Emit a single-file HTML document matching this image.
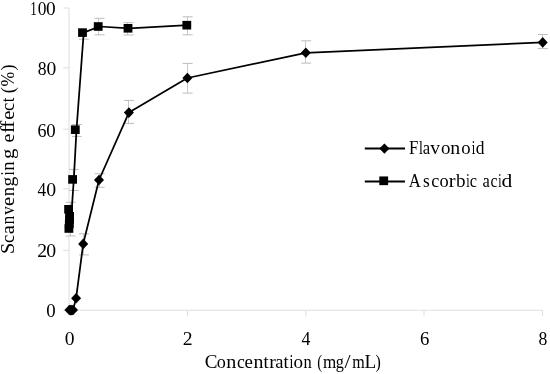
<!DOCTYPE html>
<html><head><meta charset="utf-8"><style>
html,body{margin:0;padding:0;background:#fff;}
body{width:550px;height:374px;overflow:hidden;}
svg{display:block;filter:grayscale(1);}
</style></head><body>
<svg width="550" height="374" viewBox="0 0 550 374">
<g stroke="#e0e0e0" stroke-width="1.1" fill="none">
<path d="M69.0 8.0V310.2H542.5"/>
<path d="M63.2 310.20H69.0"/>
<path d="M63.2 250.30H69.0"/>
<path d="M63.2 188.90H69.0"/>
<path d="M63.2 129.20H69.0"/>
<path d="M63.2 67.80H69.0"/>
<path d="M63.2 8.00H69.0"/>
<path d="M187.40 310.2V316.4"/>
<path d="M305.80 310.2V316.4"/>
<path d="M424.00 310.2V316.4"/>
<path d="M542.50 310.2V316.4"/>
</g>
<g stroke="#bdbdbd" stroke-width="1" fill="none">
<path stroke="#c8c8c8" d="M83.50 233.80V254.90"/><path d="M79.00 233.80H89.00M79.00 254.90H89.00"/>
<path stroke="#c8c8c8" d="M99.50 173.70V187.30"/><path d="M94.70 173.70H104.70M94.70 187.30H104.70"/>
<path stroke="#c8c8c8" d="M128.50 100.40V123.40"/><path d="M124.10 100.40H134.10M124.10 123.40H134.10"/>
<path stroke="#c8c8c8" d="M187.50 63.40V93.10"/><path d="M182.60 63.40H192.60M182.60 93.10H192.60"/>
<path stroke="#c8c8c8" d="M305.50 40.80V63.10"/><path d="M301.20 40.80H311.20M301.20 63.10H311.20"/>
<path stroke="#c8c8c8" d="M542.50 34.50V48.60"/><path d="M537.80 34.50H547.80M537.80 48.60H547.80"/>
<path stroke="#c8c8c8" d="M70.50 202.30V236.00"/><path d="M65.60 202.30H75.60M65.60 236.00H75.60"/>
<path stroke="#c8c8c8" d="M73.50 169.40V190.50"/><path d="M68.80 169.40H78.80M68.80 190.50H78.80"/>
<path stroke="#c8c8c8" d="M76.50 124.50V136.40"/><path d="M71.80 124.50H81.80M71.80 136.40H81.80"/>
<path stroke="#c8c8c8" d="M83.50 31.00V39.20"/><path d="M78.80 31.00H88.80M78.80 39.20H88.80"/>
<path stroke="#c8c8c8" d="M98.50 18.30V34.80"/><path d="M94.50 18.30H104.50M94.50 34.80H104.50"/>
<path stroke="#c8c8c8" d="M127.50 22.70V35.00"/><path d="M123.50 22.70H133.50M123.50 35.00H133.50"/>
<path stroke="#c8c8c8" d="M187.50 16.80V34.80"/><path d="M182.60 16.80H192.60M182.60 34.80H192.60"/>
</g>
<polyline points="69.40,310.00 70.60,310.10 71.80,310.10 73.00,310.00 76.10,298.20 83.20,243.90 99.00,180.00 128.90,112.60 187.40,78.00 305.80,52.80 542.70,42.40" fill="none" stroke="#000" stroke-width="1.75" stroke-linejoin="round"/>
<polyline points="68.90,228.50 71.30,216.00 73.80,179.40 76.50,129.70 83.70,32.60 99.40,26.50 129.20,28.30 188.00,25.20" fill="none" stroke="#000" stroke-width="1.75" stroke-linejoin="round"/>
<g fill="#000">
<path d="M64.40 310.00L69.40 304.70L74.40 310.00L69.40 315.30Z"/>
<path d="M65.60 310.10L70.60 304.80L75.60 310.10L70.60 315.40Z"/>
<path d="M66.80 310.10L71.80 304.80L76.80 310.10L71.80 315.40Z"/>
<path d="M68.00 310.00L73.00 304.70L78.00 310.00L73.00 315.30Z"/>
<path d="M71.10 298.20L76.10 292.90L81.10 298.20L76.10 303.50Z"/>
<path d="M78.20 243.90L83.20 238.60L88.20 243.90L83.20 249.20Z"/>
<path d="M94.00 180.00L99.00 174.70L104.00 180.00L99.00 185.30Z"/>
<path d="M123.90 112.60L128.90 107.30L133.90 112.60L128.90 117.90Z"/>
<path d="M182.40 78.00L187.40 72.70L192.40 78.00L187.40 83.30Z"/>
<path d="M300.80 52.80L305.80 47.50L310.80 52.80L305.80 58.10Z"/>
<path d="M537.70 42.40L542.70 37.10L547.70 42.40L542.70 47.70Z"/>
<rect x="64.50" y="224.20" width="8.8" height="8.6"/>
<rect x="64.90" y="219.70" width="8.8" height="8.6"/>
<rect x="65.20" y="215.10" width="8.8" height="8.6"/>
<rect x="64.20" y="205.00" width="8.8" height="8.6"/>
<rect x="65.20" y="212.00" width="8.8" height="8.6"/>
<rect x="68.20" y="175.10" width="8.8" height="8.6"/>
<rect x="70.90" y="125.40" width="8.8" height="8.6"/>
<rect x="78.10" y="28.30" width="8.8" height="8.6"/>
<rect x="93.80" y="22.20" width="8.8" height="8.6"/>
<rect x="123.60" y="24.00" width="8.8" height="8.6"/>
<rect x="182.40" y="20.90" width="8.8" height="8.6"/>
</g>
<g stroke="#000" stroke-width="2"><path d="M364.8 148.6H405M364.8 181.5H405"/></g>
<g fill="#000"><path d="M379.30 148.60L384.40 143.50L389.50 148.60L384.40 153.70Z"/><rect x="379.30" y="176.45" width="8.8" height="8.7"/></g>
<g font-family="Liberation Serif" fill="#000">
<text transform="translate(409.12,153.80) scale(0.852,1)" font-size="19.6">F</text>
<text transform="translate(419.12,153.80) scale(0.708,1)" font-size="19.6">l</text>
<text transform="translate(422.71,153.80) scale(0.852,1)" font-size="19.6">a</text>
<text transform="translate(430.20,153.80) scale(1.000,1)" font-size="19.6">v</text>
<text transform="translate(441.08,153.80) scale(0.963,1)" font-size="19.6">o</text>
<text transform="translate(450.14,153.80) scale(1.016,1)" font-size="19.6">n</text>
<text transform="translate(461.29,153.80) scale(0.951,1)" font-size="19.6">o</text>
<text transform="translate(471.84,153.80) scale(0.644,1)" font-size="19.6">i</text>
<text transform="translate(475.77,153.80) scale(0.892,1)" font-size="19.6">d</text>
<text transform="translate(408.74,186.90) scale(0.854,1)" font-size="19.6">A</text>
<text transform="translate(422.99,186.90) scale(0.883,1)" font-size="19.6">s</text>
<text transform="translate(431.31,186.90) scale(0.925,1)" font-size="19.6">c</text>
<text transform="translate(439.60,186.90) scale(0.939,1)" font-size="19.6">o</text>
<text transform="translate(448.69,186.90) scale(1.040,1)" font-size="19.6">r</text>
<text transform="translate(456.00,186.90) scale(0.972,1)" font-size="19.6">b</text>
<text transform="translate(466.34,186.90) scale(0.622,1)" font-size="19.6">i</text>
<text transform="translate(469.78,186.90) scale(0.830,1)" font-size="19.6">c</text>
<text transform="translate(482.52,186.90) scale(0.840,1)" font-size="19.6">a</text>
<text transform="translate(490.40,186.90) scale(0.803,1)" font-size="19.6">c</text>
<text transform="translate(498.25,186.90) scale(0.600,1)" font-size="19.6">i</text>
<text transform="translate(501.62,186.90) scale(1.100,1)" font-size="19.6">d</text>
<text transform="translate(46.28,317.40) scale(0.993,1)" font-size="19">0</text>
<text transform="translate(37.13,257.10) scale(1.037,1)" font-size="19">2</text>
<text transform="translate(46.25,257.10) scale(1.043,1)" font-size="19">0</text>
<text transform="translate(37.56,196.00) scale(0.906,1)" font-size="19">4</text>
<text transform="translate(46.25,196.00) scale(1.043,1)" font-size="19">0</text>
<text transform="translate(37.43,136.50) scale(0.949,1)" font-size="19">6</text>
<text transform="translate(46.28,136.50) scale(0.993,1)" font-size="19">0</text>
<text transform="translate(37.83,74.80) scale(0.931,1)" font-size="19">8</text>
<text transform="translate(46.55,74.80) scale(1.031,1)" font-size="19">0</text>
<text transform="translate(30.15,14.80) scale(0.688,1)" font-size="19">1</text>
<text transform="translate(37.84,14.80) scale(0.919,1)" font-size="19">0</text>
<text transform="translate(46.06,14.80) scale(1.018,1)" font-size="19">0</text>
<text transform="translate(64.65,345.20) scale(1.031,1)" font-size="19">0</text>
<text transform="translate(182.83,345.20) scale(1.037,1)" font-size="19">2</text>
<text transform="translate(301.55,345.20) scale(0.940,1)" font-size="19">4</text>
<text transform="translate(419.90,345.20) scale(0.986,1)" font-size="19">6</text>
<text transform="translate(538.53,345.20) scale(0.931,1)" font-size="19">8</text>
<text transform="translate(204.72,368.00) scale(0.964,1)" font-size="19.8">C</text>
<text transform="translate(216.71,368.00) scale(0.918,1)" font-size="19.8">o</text>
<text transform="translate(226.24,368.00) scale(1.017,1)" font-size="19.8">n</text>
<text transform="translate(236.93,368.00) scale(0.889,1)" font-size="19.8">c</text>
<text transform="translate(244.56,368.00) scale(0.955,1)" font-size="19.8">e</text>
<text transform="translate(253.44,368.00) scale(1.006,1)" font-size="19.8">n</text>
<text transform="translate(263.42,368.00) scale(0.944,1)" font-size="19.8">t</text>
<text transform="translate(269.21,368.00) scale(0.996,1)" font-size="19.8">r</text>
<text transform="translate(275.35,368.00) scale(0.933,1)" font-size="19.8">a</text>
<text transform="translate(283.62,368.00) scale(0.944,1)" font-size="19.8">t</text>
<text transform="translate(289.51,368.00) scale(0.701,1)" font-size="19.8">i</text>
<text transform="translate(293.47,368.00) scale(0.965,1)" font-size="19.8">o</text>
<text transform="translate(303.52,368.00) scale(0.831,1)" font-size="19.8">n</text>
<text transform="translate(317.35,368.00) scale(0.747,1)" font-size="19.8">(</text>
<text transform="translate(323.04,368.00) scale(0.859,1)" font-size="19.8">m</text>
<text transform="translate(335.80,368.00) scale(0.819,1)" font-size="19.8">g</text>
<text transform="translate(344.50,368.00) scale(1.100,1)" font-size="19.8">/</text>
<text transform="translate(352.26,368.00) scale(0.811,1)" font-size="19.8">m</text>
<text transform="translate(364.45,368.00) scale(0.968,1)" font-size="19.8">L</text>
<text transform="translate(375.39,368.00) scale(0.806,1)" font-size="19.8">)</text>
<text transform="translate(14.20,254.05) rotate(-90) scale(1.006,0.93)" font-size="20">S</text>
<text transform="translate(14.20,243.10) rotate(-90) scale(0.920,0.93)" font-size="20">c</text>
<text transform="translate(14.20,234.22) rotate(-90) scale(1.025,0.93)" font-size="20">a</text>
<text transform="translate(14.20,224.41) rotate(-90) scale(0.888,0.93)" font-size="20">n</text>
<text transform="translate(14.20,214.70) rotate(-90) scale(0.850,0.93)" font-size="20">v</text>
<text transform="translate(14.20,205.90) rotate(-90) scale(1.027,0.93)" font-size="20">e</text>
<text transform="translate(14.20,196.22) rotate(-90) scale(0.920,0.93)" font-size="20">n</text>
<text transform="translate(14.20,186.54) rotate(-90) scale(0.982,0.93)" font-size="20">g</text>
<text transform="translate(14.20,175.28) rotate(-90) scale(0.673,0.93)" font-size="20">i</text>
<text transform="translate(14.20,170.63) rotate(-90) scale(0.942,0.93)" font-size="20">n</text>
<text transform="translate(14.20,159.09) rotate(-90) scale(1.039,0.93)" font-size="20">g</text>
<text transform="translate(14.20,142.38) rotate(-90) scale(1.000,0.93)" font-size="20">e</text>
<text transform="translate(14.20,133.28) rotate(-90) scale(1.100,0.93)" font-size="20">f</text>
<text transform="translate(14.20,127.98) rotate(-90) scale(1.100,0.93)" font-size="20">f</text>
<text transform="translate(14.20,119.80) rotate(-90) scale(1.027,0.93)" font-size="20">e</text>
<text transform="translate(14.20,110.91) rotate(-90) scale(0.933,0.93)" font-size="20">c</text>
<text transform="translate(14.20,102.36) rotate(-90) scale(0.820,0.93)" font-size="20">t</text>
<text transform="translate(14.20,93.22) rotate(-90) scale(0.934,0.93)" font-size="20">(</text>
<text transform="translate(14.20,86.50) rotate(-90) scale(0.883,0.93)" font-size="20">%</text>
<text transform="translate(14.20,70.59) rotate(-90) scale(0.915,0.93)" font-size="20">)</text>
</g>
</svg>
</body></html>
